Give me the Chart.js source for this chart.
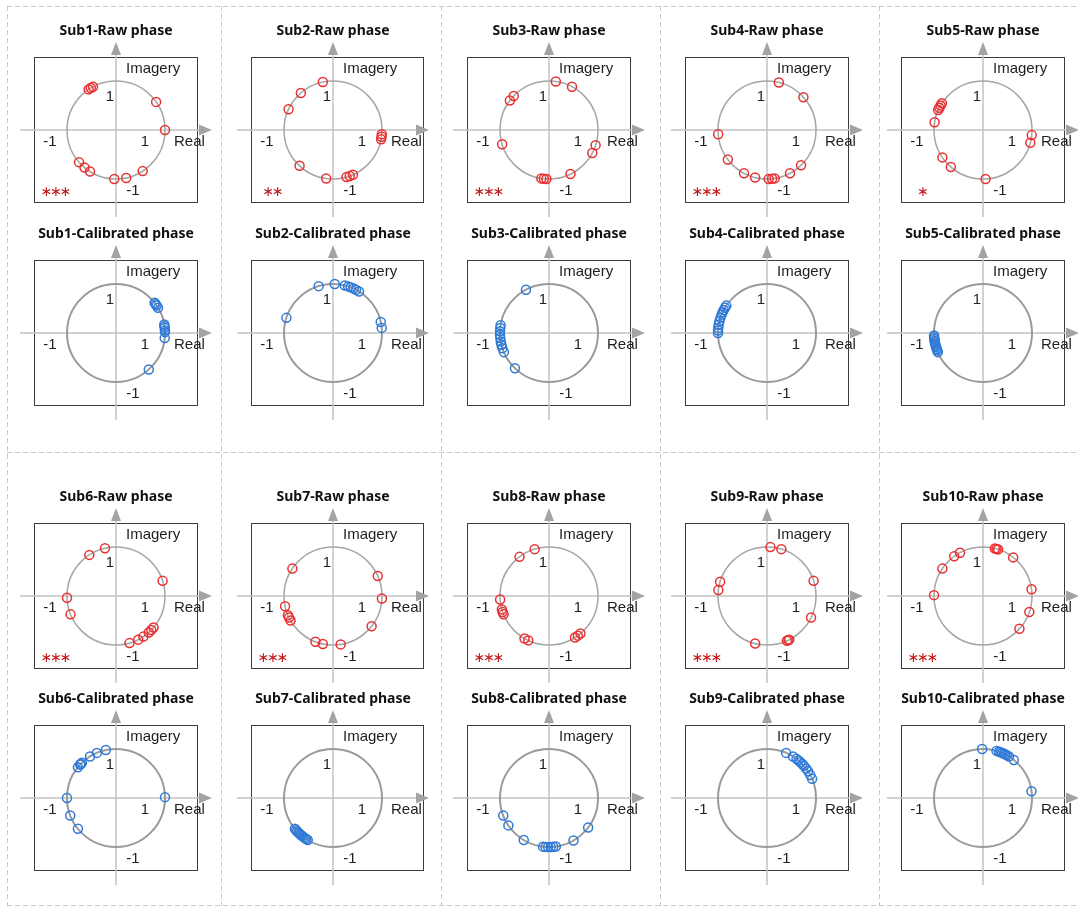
<!DOCTYPE html>
<html>
<head>
<meta charset="utf-8">
<script src="https://cdn.jsdelivr.net/npm/chart.js@4/dist/chart.umd.min.js"></script>
<style>
  html, body { margin: 0; padding: 0; background: #ffffff; overflow: hidden; }
  #stage { position: relative; width: 1078px; height: 907px; }
  #stage canvas { position: absolute; }
</style>
</head>
<body>
<div id="stage"><canvas id="frame" width="1078" height="907" style="left:0;top:0"></canvas></div>
<script>
// Phase of each trial, in degrees (unit-magnitude phasors)
const sub1Raw  = [124, 121, 118, 35, 0, 221, 230, 238, 268, 282, 303];
const sub1Cal  = [38, 36, 34, 31, 10, 8, 6, 3, 1, -6, -48];
const sub2Raw  = [102, 131, 155, -5, -8, -11, 227, 262, 286, 290, 294];
const sub2Cal  = [107, 88, 76, 72, 69, 65, 62, 58, 162, 13, 6];
const sub3Raw  = [82, 62, 136, 143, 197, -18, -28, -64, 261, 264, 267];
const sub3Cal  = [118, 226, 171, 174, 178, 182, 186, 190, 194, 198, 203];
const sub4Raw  = [76, 42, 185, 217, 242, 256, 272, 276, 279, 298, 314];
const sub4Cal  = [146, 149, 152, 155, 158, 162, 166, 170, 174, 177, 180];
const sub5Raw  = [147, 150, 153, 156, 171, -6, -15, 214, 229, 273];
const sub5Cal  = [183, 185, 187, 189, 191, 193, 195, 197, 199, 201, 203];
const sub6Raw  = [123, 103, 18, 182, 202, 286, 297, 304, 312, 316, 320];
const sub6Cal  = [102, 113, 122, 134, 136, 137, 141, 180, 201, 219, 1];
const sub7Raw  = [146, 24, -3, 192, 203, 206, 210, -38, 249, 258, 279];
const sub7Cal  = [219, 221, 223, 225, 227, 229, 231, 233, 235, 237, 239];
const sub8Raw  = [107, 127, 184, 196, 199, 202, 240, 245, 302, 306, 310];
const sub8Cal  = [201, 214, 239, 263, 266, 269, 272, 275, 278, 300, 323];
const sub9Raw  = [86, 73, 18, 163, 173, -26, 256, 294, 296, 297];
const sub9Cal  = [67, 58, 53, 50, 47, 44, 41, 37, 33, 28, 23];
const sub10Raw = [76, 74, 72, 52, 8, -19, -42, 118, 126, 146, 179];
const sub10Cal = [91, 74, 71, 69, 67, 65, 63, 61, 58, 51, 8];

const subjects = ['Sub1', 'Sub2', 'Sub3', 'Sub4', 'Sub5', 'Sub6', 'Sub7', 'Sub8', 'Sub9', 'Sub10'];
const rawPhases = [sub1Raw, sub2Raw, sub3Raw, sub4Raw, sub5Raw, sub6Raw, sub7Raw, sub8Raw, sub9Raw, sub10Raw];
const calPhases = [sub1Cal, sub2Cal, sub3Cal, sub4Cal, sub5Cal, sub6Cal, sub7Cal, sub8Cal, sub9Cal, sub10Cal];
const significance = ['***', '**', '***', '***', '*', '***', '***', '***', '***', '***'];
const axisNames = ['Real', 'Imagery'];
const unitTicks = ['-1', '1'];

// page layout
const colCenters = [116, 333, 549, 767, 983];
const blockRows = [[130, 333], [596, 798]];
const UNIT = 49;          // pixels per unit of magnitude
const BOX_L = 82, BOX_T = 73;
const boxRight = [82, 91, 82, 82, 82];
const CW = 216, CH = 204, OFF_X = 108, OFF_Y = 112;

// dashed frame around the two blocks of subjects
(function drawFrame() {
  const ctx = document.getElementById('frame').getContext('2d');
  ctx.strokeStyle = '#c8c8c8';
  ctx.lineWidth = 1;
  ctx.setLineDash([5, 3]);
  [7.5, 221.5, 441.5, 660.5, 879.5].forEach(x => {
    ctx.beginPath(); ctx.moveTo(x, 6); ctx.lineTo(x, 906); ctx.stroke();
  });
  [6.5, 452.5, 905.5].forEach(y => {
    ctx.beginPath(); ctx.moveTo(7, y); ctx.lineTo(1078, y); ctx.stroke();
  });
})();

const phasorPlugin = {
  id: 'phasor',
  beforeDatasetsDraw(chart, args, opts) {
    const { ctx, chartArea: a, scales: { x, y } } = chart;
    const ox = x.getPixelForValue(0), oy = y.getPixelForValue(0);
    const r = x.getPixelForValue(1) - ox;
    ctx.save();
    // frame of the plot area
    ctx.strokeStyle = '#3c3c3c';
    ctx.lineWidth = 1;
    ctx.strokeRect(Math.round(a.left) + 0.5, Math.round(a.top) + 0.5, Math.round(a.width) - 1, Math.round(a.height) - 1);
    // real and imaginary axes with arrow heads
    ctx.strokeStyle = '#c4c4c4';
    ctx.lineWidth = 1.5;
    ctx.beginPath();
    ctx.moveTo(ox - 96, oy); ctx.lineTo(ox + 84, oy);
    ctx.moveTo(ox, oy + 87); ctx.lineTo(ox, oy - 76);
    ctx.stroke();
    ctx.fillStyle = '#a3a3a3';
    ctx.beginPath();
    ctx.moveTo(ox + 96, oy); ctx.lineTo(ox + 83, oy - 5.5); ctx.lineTo(ox + 83, oy + 5.5); ctx.closePath();
    ctx.fill();
    ctx.beginPath();
    ctx.moveTo(ox, oy - 88); ctx.lineTo(ox - 5, oy - 75); ctx.lineTo(ox + 5, oy - 75); ctx.closePath();
    ctx.fill();
    // unit circle
    ctx.strokeStyle = opts.calibrated ? '#9a9a9a' : '#a6a6a6';
    ctx.lineWidth = opts.calibrated ? 2 : 1.5;
    ctx.beginPath();
    ctx.arc(ox, oy, r, 0, Math.PI * 2);
    ctx.stroke();
    // axis annotations
    ctx.fillStyle = '#1e1e1e';
    ctx.font = '15px "Liberation Sans", Arial, sans-serif';
    ctx.textBaseline = 'middle';
    ctx.textAlign = 'left';
    ctx.fillText(axisNames[1], ox + 10, oy - 61);
    ctx.fillText(axisNames[0], ox + 58, oy + 12);
    ctx.textAlign = 'center';
    ctx.fillText(unitTicks[1], ox - 6, oy - 33);
    ctx.fillText(unitTicks[0], ox - 66, oy + 12);
    ctx.fillText(unitTicks[1], ox + 29, oy + 12);
    ctx.fillText(unitTicks[0], ox + 17, oy + 61);
    // significance marker, one asterisk per level
    if (opts.stars) {
      ctx.fillStyle = '#c01818';
      ctx.font = '14px "DejaVu Sans", sans-serif';
      const n = opts.stars.length;
      for (let k = 0; k < n; k++) {
        ctx.fillText('\u2217', ox - 60 + (k - (n - 1) / 2) * 9.5, oy + 62);
      }
    }
    // panel title
    ctx.fillStyle = '#111111';
    ctx.font = 'bold 14px "Noto Sans", sans-serif';
    ctx.fillText(opts.title, ox, oy - 99);
    ctx.restore();
  }
};

function makePanel(cx, cy, col, title, phases, color, stars, calibrated) {
  const canvas = document.createElement('canvas');
  canvas.width = CW; canvas.height = CH;
  canvas.style.left = (cx - OFF_X) + 'px';
  canvas.style.top = (cy - OFF_Y) + 'px';
  document.getElementById('stage').appendChild(canvas);
  const right = boxRight[col];
  const points = phases.map(d => ({ x: Math.cos(d * Math.PI / 180), y: Math.sin(d * Math.PI / 180) }));
  new Chart(canvas, {
    type: 'scatter',
    data: {
      datasets: [{
        data: points,
        pointStyle: 'circle',
        pointRadius: 4.5,
        pointBorderWidth: 1.5,
        pointBackgroundColor: 'rgba(0,0,0,0)',
        pointBorderColor: color
      }]
    },
    options: {
      responsive: false,
      animation: false,
      devicePixelRatio: 1,
      layout: { padding: { left: OFF_X - BOX_L, right: CW - OFF_X - right, top: OFF_Y - BOX_T, bottom: CH - OFF_Y - BOX_T } },
      scales: {
        x: { type: 'linear', display: false, min: -BOX_L / UNIT, max: right / UNIT },
        y: { type: 'linear', display: false, min: -BOX_T / UNIT, max: BOX_T / UNIT }
      },
      plugins: {
        legend: { display: false },
        tooltip: { enabled: false },
        phasor: { title: title, stars: stars, calibrated: calibrated }
      }
    },
    plugins: [phasorPlugin]
  });
}

subjects.forEach((name, i) => {
  const col = i % 5;
  const block = Math.floor(i / 5);
  const cx = colCenters[col];
  const [rawY, calY] = blockRows[block];
  makePanel(cx, rawY, col, name + '-Raw phase', rawPhases[i], '#ea3030', significance[i], false);
  makePanel(cx, calY, col, name + '-Calibrated phase', calPhases[i], '#2f7ad8', null, true);
});
</script>
</body>
</html>
